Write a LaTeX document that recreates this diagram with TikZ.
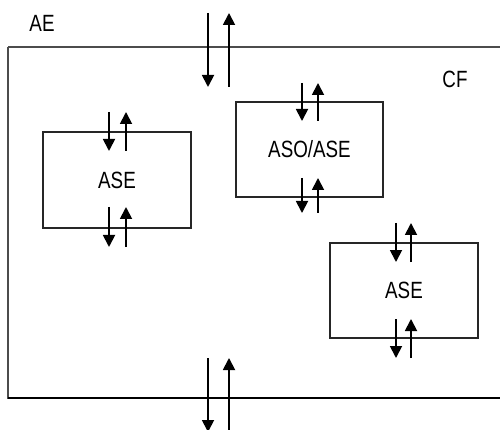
\documentclass[tikz,border=0pt]{standalone}
\usepackage{fontspec}
\setmainfont{Liberation Sans}
\newfontfamily\narrowsans[FakeStretch=0.8]{Liberation Sans}
\usetikzlibrary{arrows.meta}
\begin{document}
\begin{tikzpicture}[x=1pt,y=-1pt,
  box/.style={draw=black!85,line width=1.1pt,fill=none,inner sep=0pt},
  lbl/.style={font=\narrowsans\fontsize{23.5}{26}\selectfont,inner sep=0pt},
  flow/.style={line width=1.8pt,-{Triangle[width=12pt,length=12pt]}}]
\useasboundingbox (0,0) rectangle (500,430);
\clip (0,0) rectangle (500,430);
% outer frame
\draw[draw=black!70,line width=2pt] (8,47) -- (510,47);
\draw[draw=black!70,line width=2pt] (8,47) -- (8,398) -- (510,398);
\draw[draw=black,line width=1.2pt] (8,398) -- (510,398);
\node[lbl] (ae) at (42,23) {AE};
\node[lbl] (cf) at (455,79) {CF};
% boxes
\node[box,minimum width=148pt,minimum height=96pt] (b1) at (117,180) {};
\node[lbl] (t1) at (b1.center) {ASE};
\node[box,minimum width=147pt,minimum height=95pt] (b2) at (309.5,149.5) {};
\node[lbl] (t2) at (b2.center) {ASO/ASE};
\node[box,minimum width=148pt,minimum height=95pt] (b3) at (404,290.5) {};
\node[lbl] (t3) at (b3.center) {ASE};
% arrow coordinates
\coordinate (ta1) at (208,13);  \coordinate (ta2) at (208,87);
\coordinate (tb1) at (229,87);  \coordinate (tb2) at (229,13);
\coordinate (ba1) at (208,358); \coordinate (ba2) at (208,432);
\coordinate (bb1) at (229,432); \coordinate (bb2) at (229,358);
\draw[flow] (ta1) -- (ta2);
\draw[flow] (tb1) -- (tb2);
\draw[flow] (ba1) -- (ba2);
\draw[flow] (bb1) -- (bb2);
% box 1 arrows
\coordinate (p1) at (109,112); \coordinate (p2) at (109,151);
\coordinate (p3) at (126,151); \coordinate (p4) at (126,112);
\coordinate (p5) at (109,207); \coordinate (p6) at (109,247);
\coordinate (p7) at (126,247); \coordinate (p8) at (126,207);
\draw[flow] (p1) -- (p2); \draw[flow] (p3) -- (p4);
\draw[flow] (p5) -- (p6); \draw[flow] (p7) -- (p8);
% box 2 arrows
\coordinate (q1) at (302,83); \coordinate (q2) at (302,121);
\coordinate (q3) at (318,121); \coordinate (q4) at (318,83);
\coordinate (q5) at (302,178); \coordinate (q6) at (302,213);
\coordinate (q7) at (318,213); \coordinate (q8) at (318,178);
\draw[flow] (q1) -- (q2); \draw[flow] (q3) -- (q4);
\draw[flow] (q5) -- (q6); \draw[flow] (q7) -- (q8);
% box 3 arrows
\coordinate (r1) at (396,223); \coordinate (r2) at (396,262);
\coordinate (r3) at (411,262); \coordinate (r4) at (411,223);
\coordinate (r5) at (396,319); \coordinate (r6) at (396,358);
\coordinate (r7) at (411,358); \coordinate (r8) at (411,319);
\draw[flow] (r1) -- (r2); \draw[flow] (r3) -- (r4);
\draw[flow] (r5) -- (r6); \draw[flow] (r7) -- (r8);
\end{tikzpicture}
\end{document}
